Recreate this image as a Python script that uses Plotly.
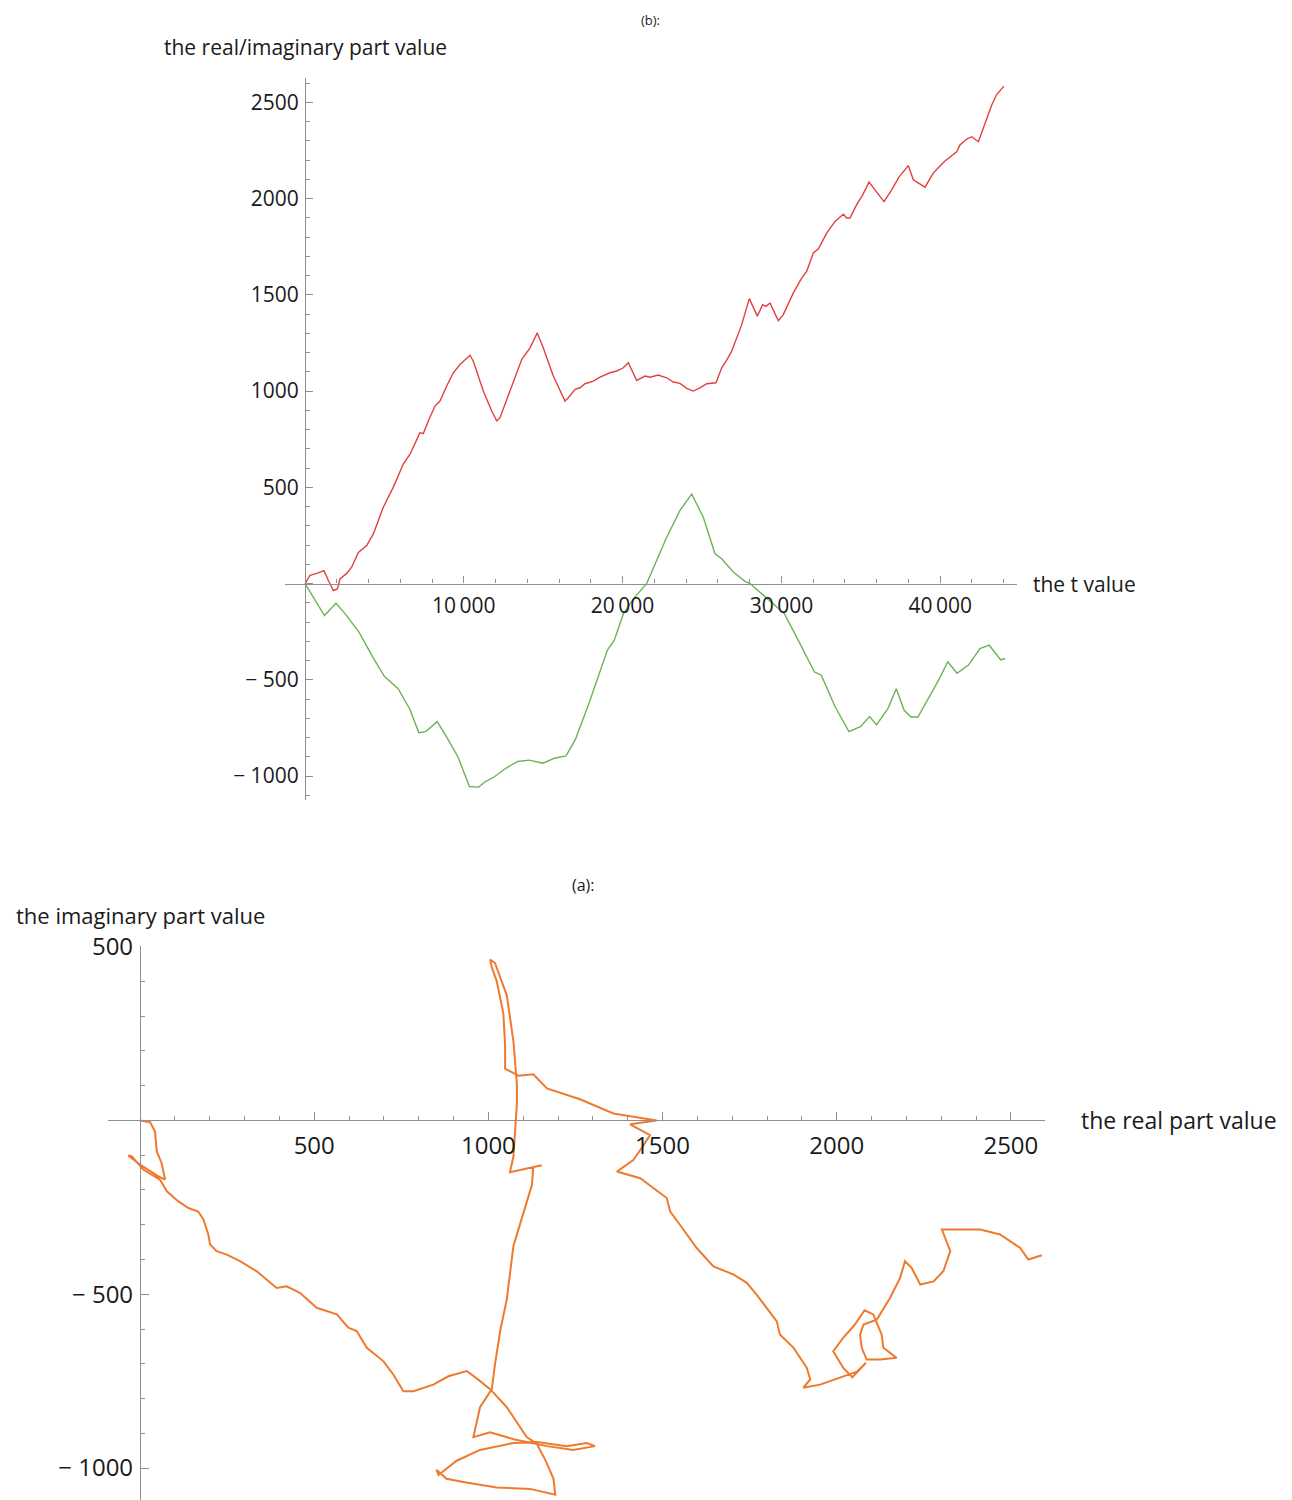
import plotly.graph_objects as go

# ---- top panel (b): real and imaginary parts against t ----
t_real = [0, 315, 735, 1196, 1470, 1784, 2036, 2204, 2624, 2939, 3360, 3884, 4302, 4931,
          5560, 6190, 6612, 7242, 7449, 7764, 8186, 8501, 8923, 9339, 9760, 10075, 10390,
          10600, 11228, 11756, 12071, 12279, 12909, 13645, 14168, 14628, 15006, 15636,
          16372, 16582, 17002, 17317, 17632, 18154, 18576, 19206, 19626, 20044, 20359,
          20674, 20888, 21410, 21725, 22247, 22775, 23190, 23614, 24036, 24452, 24873,
          25295, 25881, 26240, 26555, 26869, 27499, 27978, 28482, 28822, 29030, 29282,
          29805, 30120, 30750, 31277, 31592, 32008, 32323, 32851, 33374, 33897, 34111,
          34319, 34741, 35119, 35515, 35893, 36460, 36943, 37422, 37989, 38304, 39041,
          39564, 39879, 40301, 41037, 41245, 41667, 41982, 42404, 42923, 43238, 43553,
          44013]
real_part = [0, 43, 53, 67, 16, -36, -28, 24, 53, 85, 162, 197, 258, 397,
             501, 621, 672, 784, 779, 845, 922, 948, 1026, 1095, 1138, 1164, 1186,
             1155, 1000, 896, 845, 862, 1000, 1164, 1224, 1302, 1224, 1078,
             948, 965, 1009, 1017, 1038, 1052, 1072, 1095, 1104, 1121, 1147,
             1095, 1055, 1078, 1072, 1083, 1069, 1047, 1040, 1014, 1000, 1017,
             1038, 1043, 1121, 1161, 1207, 1345, 1480, 1389, 1449, 1440, 1457,
             1366, 1397, 1510, 1587, 1622, 1717, 1737, 1820, 1881, 1919, 1899,
             1899, 1968, 2019, 2085, 2045, 1984, 2045, 2114, 2171, 2097, 2059,
             2132, 2160, 2195, 2243, 2278, 2309, 2321, 2295, 2416, 2485, 2540,
             2584]

t_imag = [0, 1228, 1952, 2531, 3400, 4269, 4993, 5863, 6587, 7166, 7600, 8325, 8904,
          9628, 10352, 10932, 11366, 11946, 12670, 13394, 14118, 14987, 15711, 16435,
          17015, 17883, 19042, 19477, 20056, 20780, 21515, 22775, 23614, 24348, 25081,
          25818, 26240, 26970, 27707, 28022, 29470, 30194, 31063, 32078, 32512, 33381,
          34250, 34974, 35554, 35988, 36712, 37235, 37726, 38161, 38595, 39319, 39898,
          40477, 41057, 41781, 42505, 43085, 43809, 44099]
imag_part = [0, -166, -102, -157, -252, -382, -482, -546, -650, -774, -769, -717, -795,
             -899, -1054, -1057, -1028, -1002, -958, -924, -917, -933, -907, -895,
             -812, -622, -345, -294, -155, -69, 0, 241, 380, 465, 345,
             155, 129, 60, 12, 0, -104, -157, -295, -459, -476, -640,
             -769, -743, -691, -734, -648, -546, -658, -693, -693, -589, -501,
             -406, -466, -423, -337, -320, -397, -389]

# ---- bottom panel (a): the path in the complex plane ----
path_re = [0, 29, 43, 48, 62, 72, 53, 0, -34, -24, 10, 57, 77, 110, 139, 167, 182, 196,
           201, 220, 249, 287, 335, 392, 421, 459, 507, 565, 598, 622, 651, 699, 727,
           756, 785, 842, 885, 938,
           970, 1005, 1053, 1110, 1139, 1165, 1187, 1192,
           1120, 1024, 928, 880, 851, 857,
           909, 976, 1072, 1139, 1225, 1282, 1306,
           1244, 1168, 1072, 1005, 957,
           976, 1010, 1019, 1035, 1053, 1062, 1072, 1100, 1125, 1129, 1153, 1100, 1062,
           1072, 1077, 1082, 1082,
           1072, 1053, 1030, 1019, 1005,
           1010, 1024, 1043, 1048, 1048, 1086, 1129, 1168, 1263, 1359, 1455, 1483,
           1407, 1464, 1445, 1416, 1369,
           1436, 1512, 1522, 1550, 1598, 1646, 1703, 1742, 1770, 1828, 1837, 1876, 1914,
           1924, 1904,
           1952, 2019, 2058, 2084, 2045, 2019, 1990, 2019, 2050, 2080, 2105, 2129, 2134,
           2172, 2125, 2086, 2072, 2067, 2077, 2115, 2153, 2182,
           2196, 2215, 2240, 2278, 2306, 2326, 2306, 2302, 2335, 2412, 2469, 2527, 2550,
           2565, 2589]
path_im = [0, -5, -32, -89, -123, -170, -161, -127, -101, -103, -142, -170, -204, -233,
           -252, -262, -285, -328, -357, -376, -386, -405, -434, -482, -477, -496, -539,
           -558, -596, -606, -654, -693, -731, -779, -779, -760, -736, -721,
           -745, -773, -825, -911, -930, -980, -1031, -1077,
           -1060, -1056, -1040, -1031, -1005, -1020,
           -979, -948, -928, -925, -937, -928, -937,
           -948, -937, -917, -897, -911,
           -825, -773, -701, -600, -514, -440, -361, -268, -186, -134, -129, -140, -149,
           -103, -21, 50, 103,
           227, 360, 420, 453, 463,
           440, 401, 308, 216, 149, 129, 133, 92, 61, 20, 5, 0,
           -11, -42, -72, -114, -147,
           -166, -223, -262, -300, -367, -420, -443, -467, -501, -578, -616, -654, -711,
           -745, -769,
           -760, -736, -723, -697, -739, -712, -664, -625, -590, -546, -558, -616, -654,
           -683, -688, -688, -654, -616, -587, -573, -511, -453,
           -405, -424, -472, -463, -434, -376, -328, -314, -314, -314, -328, -367, -400,
           -395, -388]

top_x_ticks = [0, 10000, 20000, 30000, 40000]
top_x_text = ["", "10\u2009000", "20\u2009000", "30\u2009000", "40\u2009000"]
top_y_ticks = [-1000, -500, 0, 500, 1000, 1500, 2000, 2500]
top_y_text = ["\u2212 1000", "\u2212 500", "", "500", "1000", "1500", "2000", "2500"]
bot_x_ticks = [0, 500, 1000, 1500, 2000, 2500]
bot_x_text = ["", "500", "1000", "1500", "2000", "2500"]
bot_y_ticks = [-1000, -500, 0, 500]
bot_y_text = ["\u2212 1000", "\u2212 500", "", "500"]

W, H = 1292, 1500
RED = "#e2403f"
GREEN = "#6db356"
ORANGE = "#ee7a2e"
AXIS = "#8f8f8f"
TEXT = "#1a1a1a"
FONT = "Open Sans"

# plot windows (paper fractions) and data ranges
top_xdom = [285 / W, 1017 / W]
top_ydom = [(H - 800) / H, (H - 78) / H]
top_xr = [-1260, 44835]
top_yr = [-1124, 2626]
bot_xdom = [108 / W, 1045 / W]
bot_ydom = [0.0, (H - 946) / H]
bot_xr = [-92, 2598]
bot_yr = [-1092, 502]


def zero_pos(dom, rng):
    """Paper coordinate at which the value 0 falls inside a domain."""
    return dom[0] + (0 - rng[0]) / (rng[1] - rng[0]) * (dom[1] - dom[0])


fig = go.Figure()
fig.add_trace(go.Scatter(x=t_real, y=real_part, mode="lines",
                         line=dict(color=RED, width=1.4), xaxis="x", yaxis="y"))
fig.add_trace(go.Scatter(x=t_imag, y=imag_part, mode="lines",
                         line=dict(color=GREEN, width=1.4), xaxis="x", yaxis="y"))
fig.add_trace(go.Scatter(x=path_re, y=path_im, mode="lines",
                         line=dict(color=ORANGE, width=2), xaxis="x2", yaxis="y2"))


def axis(dom, rng, pos, vals, text, major_len, dtick, size, standoff):
    return dict(domain=dom, range=rng, anchor="free", position=pos,
                automargin=False,
                showline=True, linecolor=AXIS, linewidth=1.3,
                ticks="inside", ticklen=major_len, tickwidth=1, tickcolor=AXIS,
                tickmode="array", tickvals=vals, ticktext=text,
                minor=dict(tickmode="linear", tick0=0, dtick=dtick, ticks="inside",
                           ticklen=4, tickwidth=1, tickcolor=AXIS),
                showgrid=False, zeroline=False, fixedrange=True,
                ticklabelstandoff=standoff,
                tickfont=dict(family=FONT, size=size, color=TEXT))


fig.update_layout(
    width=W, height=H, margin=dict(l=0, r=0, t=0, b=0, autoexpand=False),
    paper_bgcolor="white", plot_bgcolor="rgba(0,0,0,0)", showlegend=False,
    xaxis=axis(top_xdom, top_xr, zero_pos(top_ydom, top_yr), top_x_ticks, top_x_text,
               7, 2000, 21, 3),
    yaxis=axis(top_ydom, top_yr, zero_pos(top_xdom, top_xr), top_y_ticks, top_y_text,
               7, 100, 21, 2),
    xaxis2=axis(bot_xdom, bot_xr, zero_pos(bot_ydom, bot_yr), bot_x_ticks, bot_x_text,
                8, 100, 24, 4),
    yaxis2=axis(bot_ydom, bot_yr, zero_pos(bot_xdom, bot_xr), bot_y_ticks, bot_y_text,
                8, 100, 24, 2),
)
fig.layout.xaxis.side = "bottom"
fig.layout.xaxis2.side = "bottom"
fig.layout.yaxis.side = "left"
fig.layout.yaxis2.side = "left"

ann = [
    dict(text="(b):", xref="paper", yref="paper", x=650 / W, y=(H - 20) / H,
         font=dict(size=13)),
    dict(text="the real/imaginary part value", xref="x", yref="paper", x=0,
         y=(H - 47) / H, font=dict(size=21)),
    dict(text="the t value", xref="x", yref="y", x=top_xr[1], y=0, xanchor="left",
         xshift=14, font=dict(size=21)),
    dict(text="(a):", xref="paper", yref="paper", x=583 / W, y=(H - 885) / H,
         font=dict(size=16)),
    dict(text="the imaginary part value", xref="x2", yref="paper", x=0,
         y=(H - 915) / H, font=dict(size=22)),
    dict(text="the real part value", xref="x2", yref="y2", x=bot_xr[1], y=0,
         xanchor="left", xshift=34, font=dict(size=23)),
]
for a in ann:
    a.setdefault("xanchor", "center")
    a["yanchor"] = "middle"
    a["showarrow"] = False
    a["font"] = dict(family=FONT, color=TEXT, size=a["font"]["size"])
fig.update_layout(annotations=ann)

fig.write_html("out.html")
